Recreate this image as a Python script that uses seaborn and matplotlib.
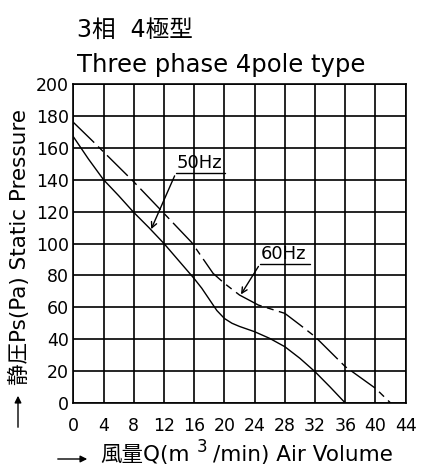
import matplotlib
matplotlib.use("Agg")
import matplotlib.pyplot as plt
import seaborn as sns
import pandas as pd

# ---- data ----
q_50 = [0, 2, 4, 6, 8, 10, 12, 14, 16, 17, 18, 19, 20, 21, 22, 24, 26, 28, 30, 32, 34, 36]
p_50 = [167, 153, 140, 130, 119.5, 110, 100, 89, 78, 72, 65, 58, 53, 50, 48, 44.7, 40.5, 35.3, 28, 19.6, 10, 0]
q_60 = [0, 2.65, 8, 12, 15.7, 18.5, 20, 22, 24.5, 28, 30, 32, 36, 40, 42]
p_60 = [176, 163.8, 138.7, 118.9, 100.5, 81.3, 75, 67.7, 61.4, 56.2, 49, 41.6, 22.8, 9.2, 0]
x_ticks = list(range(0, 45, 4))
y_ticks = list(range(0, 201, 20))

df50 = pd.DataFrame({"Q": q_50, "P": p_50})
df60 = pd.DataFrame({"Q": q_60, "P": p_60})

sns.set_theme(style="white")
FONT = ["DejaVu Sans", "Noto Sans CJK JP"]
plt.rcParams["font.family"] = FONT

W, H = 424, 466
fig = plt.figure(figsize=(W / 100, H / 100), dpi=100)
ax = fig.add_axes([73.3 / W, 63 / H, (405.7 - 73.3) / W, (403 - 84) / H])

sns.lineplot(data=df50, x="Q", y="P", ax=ax, color="black", lw=1.0, sort=False)
sns.lineplot(data=df60, x="Q", y="P", ax=ax, color="black", lw=1.0, sort=False,
             linestyle=(0, (21, 4, 5, 4)))

ax.set_xlim(0, 44)
ax.set_ylim(0, 200)
ax.set_xticks(x_ticks)
ax.set_yticks(y_ticks)
ax.set_xticklabels([str(v) for v in x_ticks], fontsize=12.5)
ax.set_yticklabels([str(v) for v in y_ticks], fontsize=12.5)
ax.tick_params(axis="both", length=0, colors="black")
ax.tick_params(axis="x", pad=10)
ax.tick_params(axis="y", pad=3)
ax.grid(True, color="black", lw=1.2)
for s in ax.spines.values():
    s.set_color("black")
    s.set_linewidth(1.2)
ax.set_xlabel("")
ax.set_ylabel("")

# annotations
lab50 = (13.56, 144.0, 20.1)
tip50 = (10.16, 107.4)
lab60 = (24.7, 87.1, 31.35)
tip60 = (22.0, 66.6)
for (x0, y0, x1), tip, txt in [(lab50, tip50, "50Hz"), (lab60, tip60, "60Hz")]:
    ax.plot([x0, x1], [y0, y0], color="black", lw=1.0)
    ax.annotate("", xy=tip, xytext=(x0, y0),
                arrowprops=dict(arrowstyle="->", color="black", lw=1.0, mutation_scale=10))
    ax.text(x0 + 0.1, y0 + 0.6, txt, fontsize=13, ha="left", va="bottom",
            color="black")

# titles
fig.text(77 / W, 1 - 37 / H, "3相  4極型", fontsize=17, ha="left",
         va="baseline", color="black")
fig.text(77 / W, 1 - 72 / H, "Three phase 4pole type", fontsize=17.5,
         ha="left", va="baseline", color="black")

# y axis label
fig.text(19 / W, 1 - 385 / H, "静圧Ps(Pa) Static Pressure", rotation=90, fontsize=15.5,
         ha="center", va="bottom", color="black")
fig.add_artist(matplotlib.patches.FancyArrowPatch(
    (18 / W, 1 - 430 / H), (18 / W, 1 - 393 / H), transform=fig.transFigure,
    arrowstyle="-|>", mutation_scale=10, color="black", lw=1.0))

# x axis label (pieces so that the raised 3 keeps CJK fallback working)
renderer = fig.canvas.get_renderer()
base_y = 461
t1 = fig.text(100 / W, 1 - base_y / H, "風量Q(m", fontsize=15.5, ha="left",
              va="baseline", color="black")
x_end = t1.get_window_extent(renderer).x1
t2 = fig.text((x_end + 7) / W, 1 - (base_y - 9) / H, "3", fontsize=12, ha="left",
              va="baseline", color="black")
x_end = t2.get_window_extent(renderer).x1
fig.text((x_end + 6) / W, 1 - base_y / H, "/min) Air Volume", fontsize=15.5, ha="left",
         va="baseline", color="black")
fig.add_artist(matplotlib.patches.FancyArrowPatch(
    (55 / W, 1 - 459 / H), (90 / W, 1 - 459 / H), transform=fig.transFigure,
    arrowstyle="-|>", mutation_scale=10, color="black", lw=1.0))

fig.savefig("out.png", dpi=100, facecolor="white")
